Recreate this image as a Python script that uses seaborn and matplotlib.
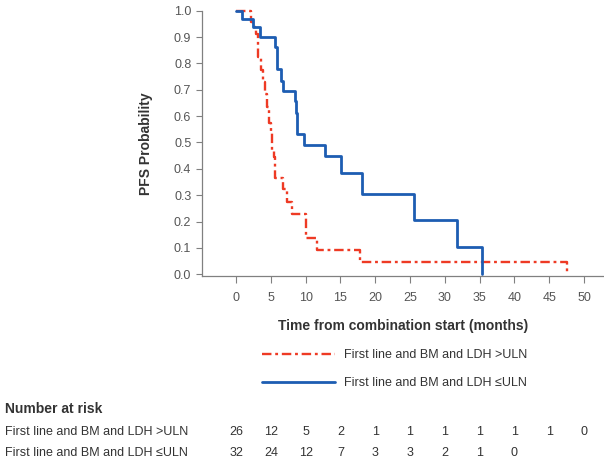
import matplotlib
matplotlib.use('Agg')
import matplotlib.pyplot as plt
import matplotlib.transforms as mtransforms
import pandas as pd
import seaborn as sns

# Kaplan-Meier steps (time in months, PFS after each drop)
high_time = [0, 2.2, 2.5, 2.8, 3.2, 3.6, 3.9, 4.2, 4.4, 4.7, 5.0, 5.1, 5.4, 5.6, 6.8, 7.3, 8.0, 10.1, 11.7, 17.8, 47.6]
high_surv = [1.0, 0.958, 0.937, 0.91, 0.823, 0.775, 0.728, 0.685, 0.634, 0.575, 0.539, 0.47, 0.444, 0.365, 0.322, 0.274, 0.228, 0.139, 0.091, 0.045, 0.0]

low_time = [0, 0.8, 2.4, 3.45, 5.6, 5.95, 6.5, 6.8, 8.4, 8.6, 8.7, 9.8, 12.8, 15.1, 18.15, 25.6, 31.8, 35.3]
low_surv = [1.0, 0.969, 0.9375, 0.90, 0.861, 0.778, 0.735, 0.697, 0.656, 0.612, 0.531, 0.49, 0.448, 0.384, 0.306, 0.205, 0.102, 0.0]

label_high = "First line and BM and LDH >ULN"
label_low = "First line and BM and LDH \u2264ULN"

risk_times = [0, 5, 10, 15, 20, 25, 30, 35, 40, 45, 50]
risk_high = [26, 12, 5, 2, 1, 1, 1, 1, 1, 1, 0]
risk_low = [32, 24, 12, 7, 3, 3, 2, 1, 0]

x_ticks = [0, 5, 10, 15, 20, 25, 30, 35, 40, 45, 50]
y_ticks = [0.0, 0.1, 0.2, 0.3, 0.4, 0.5, 0.6, 0.7, 0.8, 0.9, 1.0]

sns.set_style("ticks")
plt.rcParams['font.family'] = ['Liberation Sans', 'DejaVu Sans']

red = "#ee3a24"
blue = "#1d5db2"
grey = "#808080"
text_col = "#333333"

df_high = pd.DataFrame({"time": high_time, "surv": high_surv})
df_low = pd.DataFrame({"time": low_time, "surv": low_surv})

fig = plt.figure(figsize=(6.04, 4.63), dpi=100)
ax = fig.add_axes([0.334, 0.4039, 0.666, 0.573])

sns.lineplot(data=df_high, x="time", y="surv", ax=ax, estimator=None, sort=False,
             drawstyle="steps-post", color=red, linewidth=1.7,
             linestyle=(0, (4, 1.6, 1.2, 1.6)), label=label_high, clip_on=False)
sns.lineplot(data=df_low, x="time", y="surv", ax=ax, estimator=None, sort=False,
             drawstyle="steps-post", color=blue, linewidth=2.0,
             label=label_low, clip_on=False)

ax.set_xlim(-4.93, 52.87)
ax.set_ylim(-0.0065, 1.0)
ax.set_xticks(x_ticks)
ax.set_yticks(y_ticks)
ax.set_yticklabels([f"{v:.1f}" for v in y_ticks])
sns.despine(ax=ax)
for s in ("left", "bottom"):
    ax.spines[s].set_color(grey)
    ax.spines[s].set_linewidth(0.9)
ax.tick_params(axis="x", length=5, width=0.8, color=grey, pad=6.5, labelsize=9, labelcolor="#555555")
ax.tick_params(axis="y", length=4, width=0.8, color=grey, pad=3.5, labelsize=9, labelcolor="#555555")

ax.set_xlabel("Time from combination start (months)", fontsize=10, fontweight="bold",
              color=text_col, labelpad=11)
ax.set_ylabel("PFS Probability", fontsize=10, fontweight="bold", color=text_col, labelpad=15)

leg = ax.legend(loc="upper left", bbox_to_anchor=(262 / 604, 1 - 349 / 463),
                bbox_transform=fig.transFigure, frameon=False, borderpad=0,
                borderaxespad=0, handlelength=5.8, handletextpad=0.75,
                labelspacing=1.3, fontsize=9)
for t in leg.get_texts():
    t.set_color(text_col)

# number at risk table
trans = mtransforms.blended_transform_factory(ax.transData, fig.transFigure)
fig.text(5 / 604, 1 - 409 / 463, "Number at risk", fontsize=10, fontweight="bold",
         color=text_col, va="center", ha="left")
row_y = [1 - 432 / 463, 1 - 453 / 463]
for yy, lab, counts in zip(row_y, [label_high, label_low], [risk_high, risk_low]):
    fig.text(5 / 604, yy, lab, fontsize=9, color=text_col, va="center", ha="left")
    for tt, n in zip(risk_times, counts):
        ax.text(tt, yy, str(n), transform=trans, fontsize=9, color=text_col,
                va="center", ha="center", clip_on=False)

fig.savefig("out.png", dpi=100)
plt.close(fig)
